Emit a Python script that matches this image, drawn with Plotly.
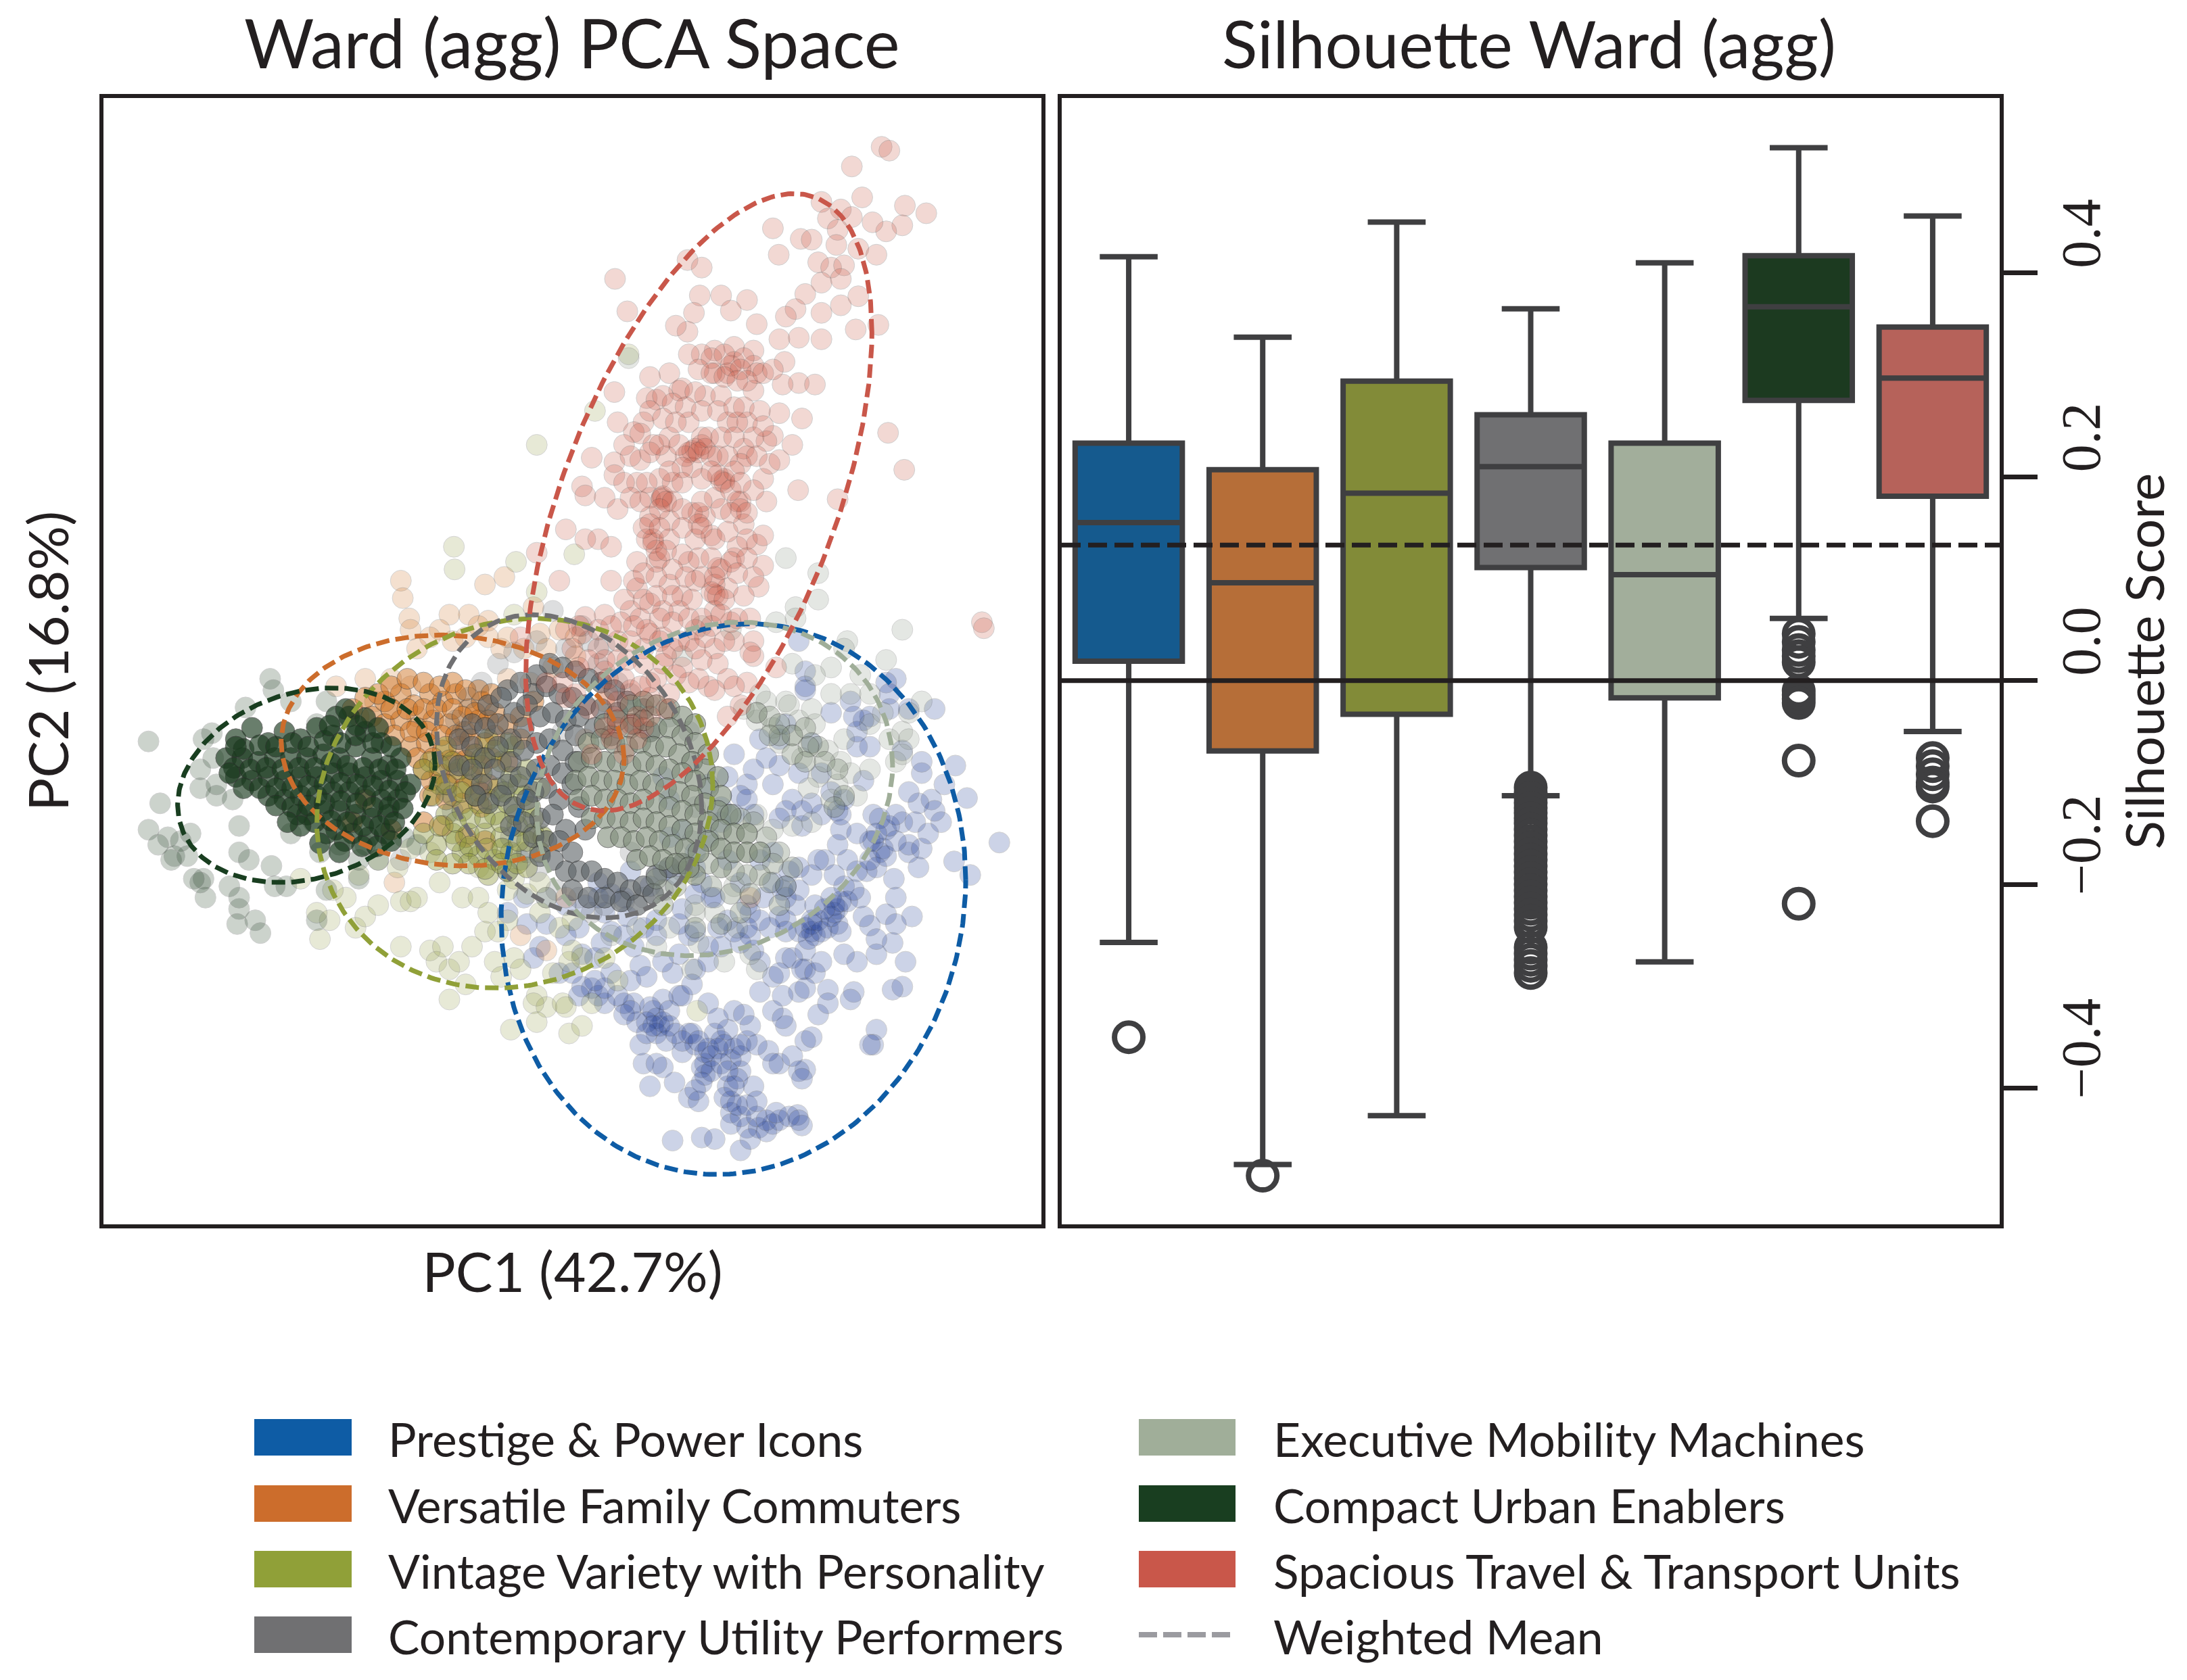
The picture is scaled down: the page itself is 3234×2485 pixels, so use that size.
import math
import plotly.graph_objects as go

W, H = 3234, 2485
CLUSTERS = ["Prestige & Power Icons", "Versatile Family Commuters", "Vintage Variety with Personality",
            "Contemporary Utility Performers", "Executive Mobility Machines", "Compact Urban Enablers",
            "Spacious Travel & Transport Units"]
COLORS = ["#0E5CA5", "#CC6D2C", "#90A038", "#707072", "#A0AE99", "#193E20", "#C9574A"]
BOX_COLORS = ["#155A8E", "#B66E38", "#828B38", "#707072", "#A2AE9B", "#1C3A20", "#B6625A"]
POINT_COLORS = ["#1E3C96", "#CC6A14", "#8C963A", "#5A6064", "#7E8C78", "#1A3A1E", "#C8503C"]

# Silhouette box statistics
Q1 = [0.019, -0.069, -0.033, 0.111, -0.017, 0.275, 0.181]
MEDIAN = [0.155, 0.096, 0.184, 0.210, 0.104, 0.367, 0.297]
Q3 = [0.233, 0.207, 0.294, 0.261, 0.233, 0.417, 0.347]
LOW = [-0.257, -0.475, -0.427, -0.113, -0.276, 0.061, -0.050]
HIGH = [0.416, 0.337, 0.450, 0.365, 0.410, 0.523, 0.456]
OUTLIERS = [[-0.350], [-0.486], [], 
            [-0.105, -0.110, -0.115, -0.120, -0.125, -0.130, -0.135, -0.140, -0.146, -0.152, -0.158, -0.164, -0.170,
             -0.176, -0.182, -0.188, -0.194, -0.200, -0.206, -0.212, -0.218, -0.224, -0.230, -0.236, -0.242,
             -0.262, -0.268, -0.274, -0.280, -0.287],
            [],
            [0.046, 0.038, 0.030, 0.024, 0.018, -0.010, -0.014, -0.018, -0.022, -0.0785, -0.219],
            [-0.076, -0.084, -0.092, -0.100, -0.104, -0.138]]
WEIGHTED_MEAN = 0.133
YTICKS = [-0.4, -0.2, 0.0, 0.2, 0.4]

# PCA scores, in hundredths of a PC unit: (PC1, PC2)
BLUE = [(135,-622),(180,-618),(200,-620),(240,-635),(225,-585),(225,-600),(250,-605),(268,-605),(290,-600),(300,-595),(328,-588),(335,-602),
(340,-528),(330,-530),(283,-503),(300,-520),(260,-550),(240,-530),(220,-550),(185,-520),(185,-535),(160,-565),(175,-570),(210,-490),(230,-500),(240,-510),
(200,-480),(160,-480),(150,-505),(120,-525),(100,-550),(90,-520),(138,-545),(110,-520),(85,-495),(115,-470),(105,-450),(120,-435),(85,-390),(75,-440),
(60,-440),(30,-440),(10,-420),(-5,-418),(135,-400),(145,-430),(230,-450),(245,-455),(220,-475),(290,-450),(310,-470),(340,-490),(350,-485),(375,-422),
(415,-425),(410,-435),(360,-455),(330,-425),(340,-395),(305,-430),(290,-405),(450,-475),(445,-495),(440,-495),(490,-418),(475,-422),(495,-385),(475,-360),
(450,-375),(640,-227),(590,-168),(595,-270),(570,-252),(540,-50),(572,-125),(550,-200),(535,-170),(515,-175),(500,-240),(500,-230),(520,-235),(465,-210),
(445,-190),(440,-225),(455,-240),(405,-250),(390,-230),(395,-210),(477,-275),(435,-265),(425,-300),(390,-315),(350,-345),(330,-345),(305,-290),(505,-325),
(465,-322),(440,-337),(405,-305),(340,0),(340,-20),(330,40),(380,-55),(410,-40),(470,-50),(480,-10),(520,-135),(490,-105),(440,-100),(365,-135),(300,-125),
(250,-150),(220,-140),(320,-170),(380,-160),(390,-185),(110,-460),(120,-465),(130,-450),(100,-445),(110,-480),(95,-465),(125,-490),(170,-495),(185,-505),
(180,-525),(195,-510),(215,-495),(225,-515),(250,-490),(240,-495),(235,-540),(215,-565),(225,-570),(240,-590),(265,-590),(255,-620),(280,-610),(310,-380),
(340,-370),(355,-350),(375,-340),(390,-335),(385,-320),(350,-330),(325,-310),(310,-285),(290,-280),(275,-300),(255,-320),(230,-345),(210,-365),(190,-385),
(170,-395),(145,-375),(120,-385),(90,-340),(65,-325),(40,-345),(15,-380),(-10,-340),(-30,-350),(-60,-300),(-90,-335),(-120,-320),(-70,-365),(-40,-400),
(40,-400),(70,-410),(160,-350),(205,-340),(260,-370),(310,-330),(330,-290),(350,-270),(370,-250),(400,-285),(420,-265),(380,-300),(355,-310),(450,-260),
(460,-235),(480,-225),(490,-200),(455,-195),(430,-145),(400,-170),(350,-95),(310,-70),(270,-90),(230,-110),(210,-180),(190,-220),(150,-210),(120,-265),
(170,-295),(110,-330),(60,-300),(20,-280),(480,-300),(515,-260),(420,-100),(440,-60),(465,-15),(290,-240),(315,-265),(250,-310),(200,-300),(170,-260),
(130,-220),(75,-365),(110,-350),(145,-335),(195,-300),(240,-280),(270,-250),(335,-205),(420,-80),
(80,-465),(95,-480),(105,-470),(70,-450),(60,-455),(50,-430),(20,-430),(30,-420),(15,-410),(-10,-430),(130,-470),(140,-480),(150,-490),(165,-480),(175,-490),(190,-500),(205,-500),(210,-520),(195,-530),(180,-545),(170,-555),(220,-530),(230,-550),(235,-575),(250,-575),(265,-570),(280,-595),(295,-585),(315,-590),(330,-595),
(340,-340),(350,-335),(360,-330),(345,-355),(365,-345),(380,-325),(385,-310),(370,-315),(395,-305),(300,-325),(310,-345),(285,-340),(270,-330),(255,-350),(240,-360),(270,-385),(300,-400),(320,-380),(335,-395),(355,-400),(365,-385),(340,-420),(375,-440),(420,-385),(450,-355),(480,-335),(430,-325),(415,-290),(440,-250),(465,-245),(445,-225),(470,-205),(450,-215),(480,-190),(510,-200),(530,-215),(500,-160),(540,-185),(555,-150),(520,-120),(500,-50),(470,-30),(430,-65),(415,-60),(340,-25),(300,-90),(280,-115),(260,-130),(240,-165),(290,-150),(330,-135),(350,-175),(310,-185),(260,-190),(210,-200),(170,-240),(180,-280),(220,-250),(140,-270),(100,-285),(70,-265),(60,-350),(30,-320),(0,-310),(-30,-310),(-60,-335),(-95,-300),(-120,-265),(-100,-250),(-80,-380),(150,-315),(170,-345),(190,-365),(220,-330),(250,-340),(20,-300),(40,-295),(-5,-375),(-20,-400),(25,-360),(95,-405),(150,-430),(165,-415),(190,-440),(205,-460),(255,-470),(265,-495),(290,-520),(320,-510),(335,-540),(305,-460),(270,-425),(395,-345),(400,-375),(310,-300),(330,-260),(360,-250),(385,-270),(420,-215),(395,-190),(365,-190),(335,-185),(300,-195),(250,-170),(230,-190),(190,-150),(130,-170),(120,-140)]
ORANGE_SPARSE = [(-285,120),(-282,97),(-272,70),(-270,55),(-150,67),(-125,125),(-155,115),(-180,75),(-210,75),(-225,55),(-240,45),(-205,40),(-185,45),(-165,60),
(-150,45),(-130,30),(-120,45),(-95,30),(-80,85),(-70,50),(-60,30),(-40,55),(-15,45),(-15,20),(-50,5),(-260,30),(-340,-10),(-385,-20),(-300,-10),(-270,-20),
(-300,-50),(-325,-40),(-350,-60),(-260,-60),(-295,-280),(-100,-350),(-60,-370),(255,-300),(-30,-300),(-200,-120),(0,-90),(30,-40),(-85,-15),(-120,-10)]
ORANGE_CORE = [(-330,-60),(-310,-40),(-285,-30),(-265,-45),(-240,-30),(-220,-40),(-200,-30),(-180,-50),(-160,-40),(-140,-55),(-310,-70),(-285,-65),(-260,-75),
(-235,-65),(-210,-70),(-185,-80),(-165,-65),(-140,-85),(-120,-70),(-270,-100),(-245,-95),(-220,-105),(-195,-100),(-170,-110),(-145,-115),(-250,-130),(-225,-135),
(-200,-135),(-175,-140),(-150,-150),(-240,-165),(-215,-170),(-190,-175),(-160,-180),(-250,-200),(-220,-205),(-185,-220),(-155,-225),(-120,-120),(-100,-90),(-100,-60),(-80,-40),
(-360,-50),(-340,-35),(-320,-30),(-300,-20),(-275,-10),(-250,-15),(-225,-20),(-205,-15),(-185,-25),(-165,-25),(-145,-30),(-300,-50),(-275,-50),(-250,-50),(-230,-50),(-205,-50),(-190,-60),(-170,-55),(-150,-65),(-295,-85),(-270,-80),(-245,-80),(-222,-85),(-200,-85),(-178,-90),(-155,-95),(-260,-115),(-235,-115),(-210,-118),(-185,-118),(-160,-125),(-238,-145),(-213,-150),(-188,-155),(-162,-160),(-340,-170),(-360,-200),(-300,-210)]
OLIVE_SPARSE = [(-203,165),(-202,135),(-107,145),(-75,105),(-110,75),(-17,155),(67,420),(15,345),(-75,300),(-410,-355),(-395,-330),(-415,-320),(-440,-275),(-370,-300),
(-355,-340),(-340,-325),(-320,-310),(-285,-305),(-270,-305),(-260,-300),(-285,-365),(-240,-370),(-230,-385),(-220,-365),(-210,-395),(-195,-385),(-175,-365),(-155,-345),(-135,-345),
(-120,-330),(-140,-385),(-110,-380),(-185,-415),(-210,-435),(-130,-405),(-100,-395),(-75,-430),(-60,-445),(-35,-440),(-50,-400),(-25,-385),(-5,-380),(-70,-320),(-40,-340),(-20,-370),
(-115,-475),(-80,-440),(-75,-465),(-25,-480),(-5,-470),(10,-440),(50,-410),(-30,-445),(-110,-275),(-90,-295),(-60,-300),(-390,-290),(-350,-270),(-320,-250),(-290,-260),(-225,-280),(-190,-300),
(-165,-300),(-120,-290),(-70,-280),(-165,-260),(-180,-235),(-240,-240),(-270,-235),(-130,-235),(-100,-240),(-70,-215),(170,-270),(173,-450),(-20,-330),(30,-380),(-150,-320)]
OLIVE_CORE = [(-240,-120),(-215,-100),(-195,-130),(-170,-110),(-150,-90),(-130,-120),(-110,-100),(-225,-150),(-205,-165),(-180,-150),(-160,-135),(-135,-155),(-115,-140),(-90,-130),
(-215,-190),(-190,-185),(-165,-175),(-140,-190),(-120,-175),(-95,-165),(-70,-155),(-205,-215),(-180,-215),(-155,-215),(-130,-220),(-105,-205),(-80,-195),(-190,-240),(-165,-245),
(-140,-250),(-115,-240),(-90,-225),(-65,-220),(-230,-230),(-250,-215),(-120,-265),(-150,-270),
(-250,-130),(-225,-125),(-205,-120),(-182,-125),(-160,-115),(-140,-105),(-120,-95),(-235,-165),(-215,-150),(-192,-160),(-170,-165),(-148,-170),(-125,-160),(-103,-150),(-225,-205),(-200,-200),(-178,-195),(-155,-195),(-130,-200),(-108,-190),(-85,-180),(-200,-225),(-178,-232),(-152,-235),(-128,-235),(-103,-225),(-80,-215),(-180,-255),(-155,-262),(-130,-255),(-105,-255),(-230,-250),(-205,-255),(-70,-240),(-90,-260)]
GRAY_SPARSE = [(-5,60),(-50,80),(-75,40),(-30,30),(5,40),(30,35),(20,10),(-110,25),(-135,10),(-160,-15),(-180,-35),(-200,-65),(70,-30),(50,-15),(100,-45),(130,-60),(160,-80),
(165,-120),(-210,-125),(-215,-160),(-205,-185),(-10,-300),(-45,-290),(-75,-265),(-90,-240),(-115,-220),(10,-320),(30,-310),(60,-305),(90,-300),(125,-290),(150,-265),(165,-225),(170,-180),
(-285,-250),(70,-240),(-5,-110),(-35,-80),(-190,-80)]
GRAY_CORE = [(-75,-5),(-55,10),(-35,5),(-15,0),(5,-10),(25,-15),(45,-25),(65,-40),(90,-50),
(-120,-25),(-100,-15),(-80,-30),(-60,-20),(-40,-30),(-20,-35),(0,-45),(25,-50),(50,-55),(75,-70),(100,-80),
(-150,-45),(-130,-35),(-110,-55),(-90,-45),(-70,-60),(-50,-55),(-30,-65),(-10,-60),(15,-75),(40,-85),
(-175,-70),(-155,-75),(-135,-70),(-115,-90),(-95,-75),(-75,-95),(-55,-90),(-35,-105),(-15,-85),
(-195,-90),(-175,-100),(-155,-115),(-135,-100),(-115,-120),(-95,-105),(-75,-130),(-55,-125),(-35,-135),(-15,-120),
(-195,-125),(-175,-130),(-160,-150),(-140,-130),(-120,-150),(-100,-140),(-80,-160),(-60,-155),(-40,-170),(-20,-150),
(-170,-165),(-150,-175),(-130,-165),(-110,-180),(-90,-170),(-70,-195),(-50,-190),(-30,-210),(-10,-180),
(-115,-205),(-95,-200),(-80,-220),(-60,-225),(-40,-225),(-20,-240),(0,-210),
(-70,-245),(-50,-250),(-30,-265),(-10,-265),(10,-265),(30,-275),(50,-280),(70,-290),(90,-285),(110,-270),(130,-260),(150,-255),(-20,-290),(5,-300),(30,-300),(55,-305),(80,-310),(105,-295)]
SAGE_SPARSE = [(67,415),(310,150),(360,130),(325,85),(360,95),(325,70),(490,55),(405,40),(465,15),(295,65),(400,30),(425,-5),(380,5),(355,-5),(320,10),(520,-40),(500,-55),(490,-80),(440,-70),(410,-30),(380,-30),
(470,-90),(480,-120),(440,-130),(400,-90),(355,-70),(330,-65),(310,-40),(280,-40),(270,-30),(265,-65),(290,-75),(265,-55),(245,-50),(320,-85),(350,-95),(375,-105),(335,-115),(300,-95),(315,-45),(350,-50),(395,-120),(390,-150),
(360,-140),(345,-155),(410,-135),(420,-165),(380,-170),(350,-200),(320,-205),(290,-210),(265,-190),(265,-395),(200,-230),(160,-265),(120,-290),(170,-320),(130,-340),(110,-365),(80,-340),(40,-350),(210,-260),(230,-285),(200,-320),(175,-360),(235,-340),(255,-375),(215,-385),(165,-395),
(440,-30),(460,-55),(500,-90),(490,-110),(150,20),(180,60),(225,55),(170,-310)]
SAGE_MID = [(220,-190),(240,-195),(260,-200),(280,-220),(300,-240),(320,-260),(290,-255),(270,-270),(250,-270),(230,-265),(210,-260),(190,-255),(170,-270),(195,-285),(225,-295),(255,-295),(285,-280),(310,-285),(240,-320),(210,-335),(170,-340),(300,-310),(140,-285),(110,-275),(120,-310),(265,-55),(285,-60),(300,-70),(320,-85),(340,-75),(360,-100),(345,-100),(300,-85),(285,-85),(320,-110),(340,-120),(370,-120),(390,-130),(400,-165),(385,-180)]
SAGE_CORE = [(70,-45),(90,-40),(110,-45),(130,-50),(150,-60),(170,-70),
(30,-70),(50,-65),(70,-75),(90,-65),(110,-75),(130,-75),(150,-85),(170,-95),(190,-110),
(5,-95),(25,-90),(45,-95),(65,-100),(85,-95),(105,-100),(125,-100),(145,-110),(165,-120),(185,-130),(205,-140),
(-10,-120),(10,-115),(30,-120),(50,-120),(70,-125),(90,-120),(110,-125),(130,-130),(150,-135),(170,-145),(190,-155),(210,-165),
(-15,-145),(5,-140),(25,-145),(45,-145),(65,-150),(85,-145),(105,-150),(125,-155),(145,-160),(165,-165),(185,-175),(205,-185),(225,-190),
(-10,-170),(10,-165),(30,-170),(50,-170),(70,-175),(90,-170),(110,-175),(130,-180),(150,-185),(170,-190),(190,-200),(210,-210),(230,-215),(250,-215),
(10,-195),(30,-195),(50,-195),(70,-200),(90,-195),(110,-200),(130,-205),(150,-210),(170,-215),(190,-225),(210,-235),(230,-240),(250,-240),(270,-240),
(35,-220),(55,-220),(75,-225),(95,-220),(115,-225),(135,-230),(155,-235),(175,-240),
(80,-250),(100,-245),(120,-250),(140,-255),(160,-260)]
DARK_SPARSE = [(-675,-93),(-657,-175),(-675,-210),(-645,-220),(-635,-245),(-660,-230),(-595,-155),(-570,-165),(-590,-275),(-587,-300),(-595,-280),(-535,-205),(-535,-240),(-520,-250),(-485,-258),
(-535,-315),(-538,-335),(-510,-330),(-502,-347),(-462,-285),(-487,-10),(-482,-25),(-525,-48),(-455,-40),(-577,-82),(-590,-90),(-595,-130),(-575,-115),(-615,-245),(-640,-250),(-605,-275),(-550,-285),(-535,-300),(-480,-285),
(-415,-330),(-400,-290),(-350,-275),(-320,-250),(-400,-40),(-415,-70),(-455,-215),(-410,-240),(-380,-230),(-420,-200),(-280,-220),(-260,-230),(-350,-250),(-340,-230),(-545,-170),(-570,-150),(-610,-215),(-625,-225)]
DARK_CORE = [(-540,-90),(-515,-75),(-490,-95),(-465,-80),(-440,-90),(-415,-75),(-390,-85),(-365,-60),(-340,-80),(-315,-95),(-555,-115),(-530,-115),(-505,-120),(-480,-115),(-455,-115),(-430,-115),(-405,-110),(-380,-115),(-355,-100),(-330,-115),(-305,-125),(-285,-115),
(-540,-140),(-515,-145),(-490,-140),(-465,-145),(-440,-140),(-415,-140),(-390,-135),(-365,-135),(-340,-140),(-315,-145),(-290,-145),(-490,-165),(-465,-170),(-440,-165),(-415,-165),(-390,-160),(-365,-160),(-340,-165),(-315,-170),(-290,-170),
(-270,-150),(-430,-190),(-405,-185),(-380,-185),(-355,-190),(-330,-195),(-305,-190),(-335,-220),(-360,-215),(-310,-215),(-385,-210),(-300,-100),(-355,-85),(-385,-60),(-445,-190),(-400,-215),
(-528,-103),(-503,-98),(-478,-100),(-453,-95),(-428,-100),(-403,-92),(-378,-95),(-353,-72),(-328,-95),(-543,-128),(-518,-130),(-493,-128),(-468,-130),(-443,-128),(-418,-128),(-393,-122),(-368,-125),(-343,-128),(-318,-130),(-293,-130),(-528,-155),(-503,-155),(-478,-155),(-453,-155),(-428,-152),(-403,-150),(-378,-148),(-353,-150),(-328,-152),(-303,-158),(-278,-160),(-478,-178),(-453,-180),(-428,-178),(-403,-175),(-378,-172),(-353,-175),(-328,-180),(-303,-180),(-282,-182),(-418,-200),(-393,-198),(-368,-200),(-343,-205),(-318,-205),(-295,-200),(-345,-232),(-322,-232),(-372,-225),(-300,-225),(-440,-205),(-460,-200),(-540,-100),(-550,-135),(-370,-50),(-395,-72),(-340,-62),(-320,-75),(-410,-228),(-380,-240)]
RED = [(458,695),(470,690),(412,669),(428,628),(365,622),(494,617),(527,607),(395,612),(490,591),(465,583),(444,595),(412,602),(375,600),(290,587),(333,573),(350,572),(390,585),(388,565),(422,560),(450,552),(299,552),(360,542),(380,535),(400,538),
(365,515),(395,520),(340,500),(325,480),(310,470),(365,475),(395,485),(422,497),(418,453),(453,459),(265,460),(210,498),(250,492),(225,478),(177,498),(168,475),(158,450),(158,545),(180,535),(46,520),(65,477),(140,458),(468,316),(493,267),(329,240),(390,228),(613,65),(616,57),
(200,425),(230,430),(260,425),(300,440),(330,442),(365,440),(180,420),(160,420),(230,410),(260,405),(308,410),(330,382),(355,380),(130,395),(100,390),(145,372),(185,365),(210,365),(260,372),(305,380),(45,370),(95,362),(110,360),(90,330),(50,330),(220,330),(250,330),(300,342),(335,335),
(75,317),(130,310),(160,330),(180,310),(245,295),(290,312),(320,300),(10,283),(45,277),(85,280),(125,285),(160,290),(205,285),(250,285),(280,305),(-5,245),(0,233),(45,260),(80,250),(115,255),(165,270),(180,255),(215,255),(275,255),(30,230),(50,215),(100,230),(118,230),(165,210),(240,225),
(280,225),(200,230),(-30,188),(0,175),(20,175),(40,165),(105,175),(130,200),(245,195),(170,175),(235,165),(265,168),(-75,157),(110,145),(160,145),(205,137),(275,140),(220,110),(200,102),(80,110),(40,120),(-40,120),(130,115),(268,112),(70,80),(145,80),(200,80),(0,72),(30,75),(100,50),(160,40),
(200,30),(230,40),(-20,30),(20,30),(50,40),(125,20),(205,10),(150,5),(220,-10),(295,5),(80,-60),(50,-40),(-30,-35),(120,10),(190,-20),(260,40),(240,-45),(220,-60),
(118,228),(120,232),(125,225),(165,292),(170,295),(180,300),(155,285),(210,252),(215,250),(205,260),(225,240),(235,225),(240,215),(185,205),(175,210),(105,170),(110,160),(115,150),(200,115),(195,105),(205,100),(210,135),(185,295),(150,270),(135,250),(100,205),
(90,190),(95,175),(80,145),(75,120),(175,195),(195,180),(230,150),(170,120),(150,100),(120,80),(100,90),(85,70),(225,65),(195,60),(170,55),(145,40),(120,45),(90,30),(70,40),(50,15),(30,0),(5,15),(-10,5),(180,15),(160,-15),(130,-30),(250,-15),
(260,20),(-60,-15),(-100,45),(-10,60),(50,-75),(100,-35),(235,330),(265,395),(220,395),(200,395),(225,405),(245,415),
(30,-75),(5,-50),(45,-60),(70,-25),(100,-15),(35,-30),(60,-110),(80,-90),(90,-75),(10,-110),(-15,-30),(-35,-15),
(195,415),(215,420),(240,400),(250,385),(275,395),(290,400),(175,400),(195,395),(215,390),(235,385),(150,375),(170,370),(120,365),(135,355),(155,350),(180,345),(205,345),(230,350),(245,350),(270,345),(100,345),(85,315),(105,300),(120,335),(140,330),(175,290),(190,310),(210,310),(230,310),(260,310),(275,325),(60,300),(70,285),(100,290),(115,300),(145,300),(195,285),(220,285),(240,275),(265,285),(285,275),(300,280),(60,250),(95,250),(130,265),(150,250),(195,265),(230,265),(260,240),(240,250),(70,230),(85,225),(115,215),(135,225),(150,215),(180,225),(210,215),(225,210),(250,210),(100,195),(115,190),(130,175),(150,190),(180,190),(200,175),(220,185),(250,175),(275,180),(125,160),(150,155),(175,150),(195,150),(225,145),(250,150),(90,130),(110,125),(135,135),(155,125),(180,125),(200,125),(235,130),(260,125),(60,95),(90,95),(110,100),(135,100),(165,95),(215,95),(245,100),(115,70),(135,65),(160,70),(180,70),(210,75),(235,70),(255,70),(55,65),(75,60),(95,55),(115,40),(135,30),(170,30),(185,45),(215,40),(255,25),(20,55),(40,60),(-5,50),(-30,55),(30,15),(65,15),(90,10),(140,-5),(175,-10),(200,-25),(230,-20),(35,-10),(60,-10),(85,-20),(110,-10),(125,-50),(100,-60),(70,-70),(40,-90)]

# Ellipse parameters (centre PC1, half-width, centre PC2, half-height, position of the top along the width)
ELLIPSES = [(229,359,-302,365,0.07),(-205,265,-105,153,-0.07),(-109,306,-175,245,0.10),(-25,205,-126,201,-0.27),
            (200,275,-156,221,0.145),(-431,199,-151,129,0.206),(175.5,267.5,224,409,0.55)]

def px(v): return v / W
def py(v): return 1 - v / H

fig = go.Figure()
def scatter(points, idx, op):
    fig.add_trace(go.Scatter(x=[p[0] / 100 for p in points], y=[p[1] / 100 for p in points], mode="markers",
        hoverinfo="skip", showlegend=False, xaxis="x", yaxis="y",
        marker=dict(size=31, color=POINT_COLORS[idx], opacity=op, line=dict(width=1, color="#2a2a2a"))))

scatter(BLUE, 0, 0.22)
scatter(ORANGE_SPARSE, 1, 0.2); scatter(ORANGE_CORE, 1, 0.45)
scatter(OLIVE_SPARSE, 2, 0.2); scatter(OLIVE_CORE, 2, 0.4)
scatter(GRAY_SPARSE, 3, 0.2); scatter(GRAY_CORE, 3, 0.6)
scatter(SAGE_SPARSE, 4, 0.2); scatter(SAGE_MID, 4, 0.35); scatter(SAGE_CORE, 4, 0.6)
scatter(DARK_SPARSE, 5, 0.22); scatter(DARK_CORE, 5, 0.65)
scatter(RED, 6, 0.22)

for i, (cx, a, cy, b, s) in enumerate(ELLIPSES):
    d = math.asin(s)
    ts = [2 * math.pi * k / 360 for k in range(361)]
    fig.add_trace(go.Scatter(x=[(cx + a * math.cos(t)) / 100 for t in ts], y=[(cy + b * math.sin(t + d)) / 100 for t in ts],
        mode="lines", hoverinfo="skip", showlegend=False, xaxis="x", yaxis="y",
        line=dict(color=COLORS[i], width=7, dash="20px,9px")))

for i, name in enumerate(CLUSTERS):
    fig.add_trace(go.Box(x=[name], q1=[Q1[i]], median=[MEDIAN[i]], q3=[Q3[i]], lowerfence=[LOW[i]], upperfence=[HIGH[i]],
        width=0.8, whiskerwidth=0.54, fillcolor=BOX_COLORS[i], line=dict(color="#3F3F41", width=8), boxpoints=False,
        hoverinfo="skip", showlegend=False, xaxis="x2", yaxis="y2"))
    if OUTLIERS[i]:
        fig.add_trace(go.Scatter(x=[name] * len(OUTLIERS[i]), y=OUTLIERS[i], mode="markers", hoverinfo="skip", showlegend=False,
            xaxis="x2", yaxis="y2", marker=dict(symbol="circle-open", size=42, color="#3F3F41", line=dict(width=8, color="#3F3F41"))))

FRAME = "#231F20"
SANS = "Lato"
axis = dict(showgrid=False, zeroline=False, showline=True, mirror=True, linecolor=FRAME, linewidth=6)
fig.update_layout(width=W, height=H, autosize=False, margin=dict(l=0, r=0, t=0, b=0), paper_bgcolor="white", plot_bgcolor="white",
    showlegend=False, boxmode="overlay", font=dict(family=SANS, color=FRAME, size=60),
    xaxis=dict(axis, domain=[px(153), px(1540)], range=[-7.446, 7.05], showticklabels=False, ticks="",
               title=dict(text="PC1 (42.7%)", font=dict(size=82, family=SANS, color=FRAME), standoff=40)),
    yaxis=dict(axis, domain=[py(1811), py(145)], range=[-7.33, 7.597], showticklabels=False, ticks="",
               title=dict(text="PC2 (16.8%)", font=dict(size=82, family=SANS, color=FRAME), standoff=20)),
    xaxis2=dict(axis, domain=[px(1570), px(2957)], type="category", range=[-0.5, 6.5], categoryorder="array", categoryarray=CLUSTERS,
                showticklabels=False, ticks="", anchor="y2"),
    yaxis2=dict(axis, domain=[py(1811), py(145)], range=[-0.5337, 0.5718], side="right", anchor="x2", tickvals=YTICKS, tickformat=".1f",
                ticks="outside", ticklen=50, tickwidth=7, tickcolor=FRAME, tickangle=-90, ticklabelshift=-46, ticklabelstandoff=-6,
                tickfont=dict(family="Liberation Serif", size=82, color=FRAME),
                title=dict(text="Silhouette Score", font=dict(size=78, family=SANS, color=FRAME), standoff=22)))

fig.add_shape(type="line", xref="x2 domain", yref="y2", x0=0, x1=1, y0=0, y1=0, line=dict(color=FRAME, width=7), layer="above")
fig.add_shape(type="line", xref="x2 domain", yref="y2", x0=0, x1=1, y0=WEIGHTED_MEAN, y1=WEIGHTED_MEAN, line=dict(color=FRAME, width=7, dash="28px,11px"), layer="above")

annotations = [
    dict(text="Ward (agg) PCA Space", x=px(846), y=py(124), xref="paper", yref="paper", xanchor="center", yanchor="bottom", showarrow=False, font=dict(size=100, family=SANS, color=FRAME)),
    dict(text="Silhouette Ward (agg)", x=px(2261), y=py(124), xref="paper", yref="paper", xanchor="center", yanchor="bottom", showarrow=False, font=dict(size=97, family=SANS, color=FRAME)),
]
ROW_Y = [2128, 2226, 2323, 2420]
LEGEND_COLS = [(376, 520, 572), (1684, 1827, 1881)]
for i, name in enumerate(CLUSTERS + ["Weighted Mean"]):
    col, row = divmod(i, 4)
    x0, x1, xt = LEGEND_COLS[col]
    yc = ROW_Y[row]
    if i < 7:
        fig.add_shape(type="rect", xref="paper", yref="paper", x0=px(x0), x1=px(x1), y0=py(yc - 29), y1=py(yc + 25), fillcolor=COLORS[i], line=dict(width=0))
    else:
        fig.add_shape(type="line", xref="paper", yref="paper", x0=px(x0), x1=px(x1), y0=py(yc - 2), y1=py(yc - 2), line=dict(color="#9B9BA0", width=8, dash="27px,9px"))
    annotations.append(dict(text=name, x=px(xt), y=py(yc), xref="paper", yref="paper", xanchor="left", yanchor="middle", showarrow=False, font=dict(size=69.5, family=SANS, color=FRAME)))
fig.update_layout(annotations=annotations)

fig.write_html("out.html", post_script="document.body.style.margin='0';", config=dict(displayModeBar=False))
